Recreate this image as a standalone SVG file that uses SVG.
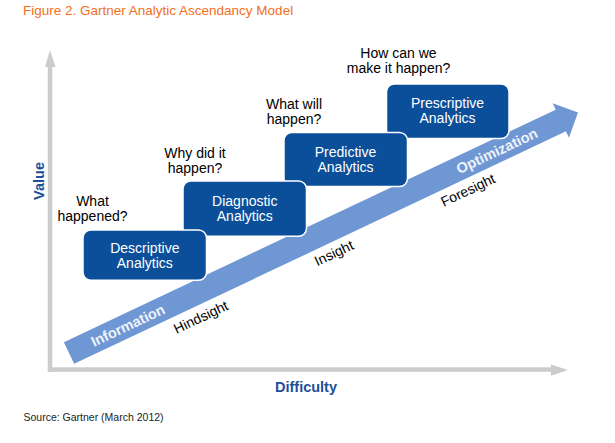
<svg xmlns="http://www.w3.org/2000/svg" width="615" height="443" viewBox="0 0 615 443">
<style>
text{font-family:"Liberation Sans",Arial,sans-serif}
.axis{fill:#cccccc}
.box{fill:#0b4f9b;stroke:#ffffff;stroke-width:1.5}
.bt{fill:#ffffff;font-size:14px;text-anchor:middle}
.q{fill:#000000;font-size:14px;text-anchor:middle}
.lbl{fill:#000000;font-size:14px;text-anchor:middle}
.in{fill:#eef3fa;font-size:14.5px;font-weight:bold;text-anchor:middle}
.ax{fill:#1c4f97;font-size:14.5px;font-weight:bold;text-anchor:middle}
</style>
<rect width="615" height="443" fill="#ffffff"/>
<text x="23" y="15" font-size="13.5" fill="#f36f21">Figure 2. Gartner Analytic Ascendancy Model</text>
<g id="axes">
<rect class="axis" x="47.8" y="66" width="4.5" height="306"/>
<polygon class="axis" points="45,67 50,50 55.5,67"/>
<rect class="axis" x="47.8" y="367.3" width="504" height="4.5"/>
<polygon class="axis" points="551,364.5 568,370 551,375.8"/>
</g>
<g id="connectors">
<polygon fill="#6f97d4" transform="translate(69,353) rotate(-25.3)" points="0,-12 544,-12 544,-19 563,0 544,19 544,12 0,12"/>
</g>
<g id="prescriptive">
<rect class="box" x="386.5" y="84" width="122.5" height="54.5" rx="8"/>
<text class="bt" x="447.5" y="108.3">Prescriptive</text>
<text class="bt" x="447.5" y="123.3">Analytics</text>
</g>
<g id="predictive">
<rect class="box" x="284" y="132.5" width="123.5" height="54" rx="8"/>
<text class="bt" x="345.5" y="156.7">Predictive</text>
<text class="bt" x="345.5" y="171.9">Analytics</text>
</g>
<g id="diagnostic">
<rect class="box" x="183" y="181" width="123.5" height="55.3" rx="8"/>
<text class="bt" x="244.8" y="205.7">Diagnostic</text>
<text class="bt" x="244.8" y="220.7">Analytics</text>
</g>
<g id="descriptive">
<rect class="box" x="83" y="230" width="123.5" height="50.3" rx="8"/>
<text class="bt" x="144.8" y="253.3">Descriptive</text>
<text class="bt" x="144.8" y="268.3">Analytics</text>
</g>
<g id="questions">
<text class="q" x="92.5" y="206">What</text>
<text class="q" x="92.5" y="221">happened?</text>
<text class="q" x="195" y="158">Why did it</text>
<text class="q" x="195" y="173">happen?</text>
<text class="q" x="294" y="108.5">What will</text>
<text class="q" x="294" y="123.5">happen?</text>
<text class="q" x="398.5" y="58">How can we</text>
<text class="q" x="398.5" y="73">make it happen?</text>
</g>
<g id="arrow-labels">
<text class="in" transform="translate(130,330) rotate(-25.3)">Information</text>
<text class="in" transform="translate(499,155.5) rotate(-25.3)">Optimization</text>
<text class="lbl" transform="translate(203,321.5) rotate(-25.3)">Hindsight</text>
<text class="lbl" transform="translate(336,257.5) rotate(-25.3)">Insight</text>
<text class="lbl" transform="translate(470,194.5) rotate(-25.3)">Foresight</text>
</g>
<text class="ax" transform="translate(44,181) rotate(-90)">Value</text>
<text class="ax" x="306" y="391.5">Difficulty</text>
<text x="23.5" y="421" font-size="10.5" fill="#222222">Source: Gartner (March 2012)</text>
</svg>
